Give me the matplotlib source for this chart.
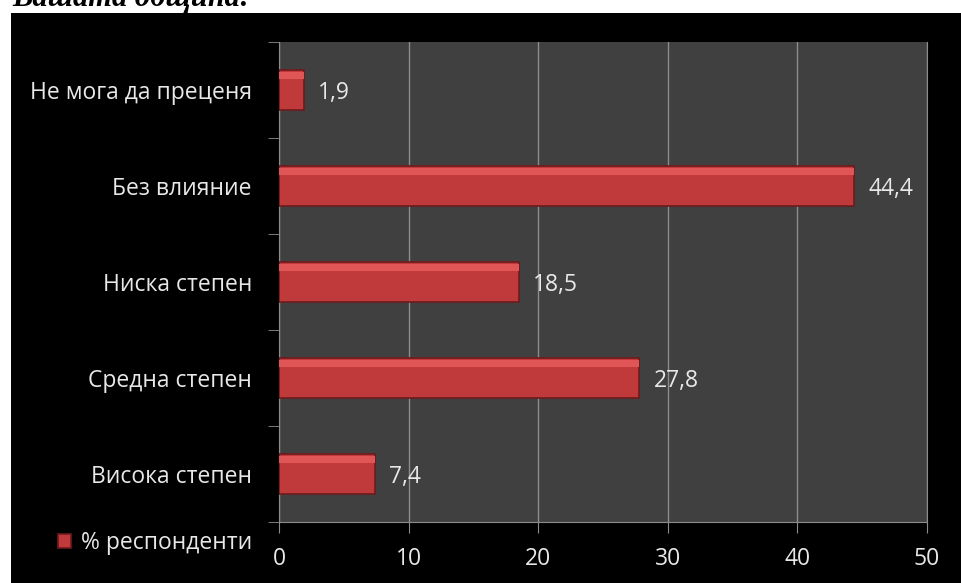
import numpy as np
import matplotlib.pyplot as plt
from matplotlib.patches import Rectangle

# данни
categories = ['Не мога да преценя', 'Без влияние', 'Ниска степен',
              'Средна степен', 'Висока степен']
values = [1.9, 44.4, 18.5, 27.8, 7.4]
value_labels = ['1,9', '44,4', '18,5', '27,8', '7,4']
series_name = '% респонденти'
xticks = [0, 10, 20, 30, 40, 50]

W, H = 962, 583
FS = 16.5
fig = plt.figure(figsize=(W / 100, H / 100), dpi=100)
fig.patch.set_facecolor('white')
fig.patches.append(Rectangle((11 / W, 0), 1, (H - 13) / H, transform=fig.transFigure,
                             facecolor='black', edgecolor='none', zorder=-5))
fig.text(12 / W, 1 + 2 / H, 'Вашата община:', ha='left', va='center',
         fontsize=22, family='Liberation Serif', style='italic', weight='bold',
         color='black')

left, right, top, bottom = 279, 927, 42, 522
ax = fig.add_axes([left / W, (H - bottom) / H, (right - left) / W, (bottom - top) / H])
ax.set_facecolor('#404040')

y = np.arange(len(categories))
bars = ax.barh(y, values, height=0.41, color='#c0393b', edgecolor='#6e1a1b',
               linewidth=1.2, zorder=3)
# светла ивица отгоре (имитация на релеф)
ax.barh(y - 0.15, values, height=0.07, color='#e05555', edgecolor='none', zorder=4)

for yi, v, lab in zip(y, values, value_labels):
    ax.text(v + 1.1, yi + 0.03, lab, va='center', ha='left', fontsize=FS,
            family='Open Sans', color='#e8e8e8', zorder=5)

ax.set_xlim(0, 50)
ax.set_ylim(len(categories) - 0.5, -0.5)
ax.set_xticks(xticks)
ax.set_xticklabels([str(t) for t in xticks], fontsize=FS, family='Open Sans',
                   color='#e8e8e8')
ax.set_yticks(y)
ax.set_yticklabels(categories, fontsize=FS, family='Open Sans', color='#e8e8e8')
ax.set_yticks(np.arange(-0.5, len(categories), 1), minor=True)
ax.tick_params(axis='y', which='major', length=0, pad=19.5)
ax.tick_params(axis='y', which='minor', length=8, color='#8c8c8c', direction='out')
ax.tick_params(axis='x', length=8, color='#8c8c8c', direction='out', pad=10)
ax.grid(axis='x', color='#8c8c8c', linewidth=1, zorder=1)
ax.set_axisbelow(True)

ax.spines['top'].set_visible(False)
ax.spines['right'].set_color('#8c8c8c')
ax.spines['left'].set_color('#8c8c8c')
ax.spines['bottom'].set_color('#8c8c8c')

leg = fig.legend([bars], [series_name], loc='center left',
                 bbox_to_anchor=(37 / W, (H - 543) / H), frameon=False,
                 handlelength=0.6, handleheight=0.6, handletextpad=0.4,
                 prop={'family': 'Open Sans', 'size': FS})
for t in leg.get_texts():
    t.set_color('#e8e8e8')

fig.savefig('out.png', dpi=100, facecolor=fig.get_facecolor())
